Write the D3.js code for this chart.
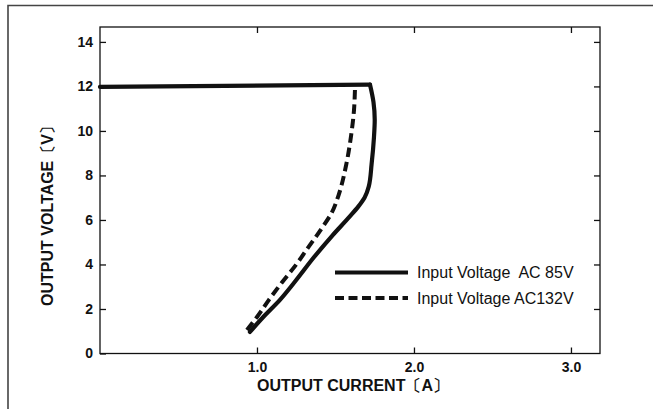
<!DOCTYPE html>
<html><head><meta charset="utf-8">
<script src="https://cdn.jsdelivr.net/npm/d3@7"></script>
<style>
html,body{margin:0;padding:0;background:#fff;}
svg{display:block;}
text{font-family:"Liberation Sans",Arial,Helvetica,sans-serif;fill:#111;}
</style></head>
<body>
<svg id="chart" width="653" height="409"></svg>
<script>
// ---- data ----
const xTicks = [1.0, 2.0, 3.0];
const xTickLabels = ["1.0", "2.0", "3.0"];
const yTicks = [0, 2, 4, 6, 8, 10, 12, 14];
const yTickLabels = ["0", "2", "4", "6", "8", "10", "12", "14"];
const seriesNames = ["Input Voltage  AC 85V", "Input Voltage AC132V"];
// AC 85V (solid): constant-voltage part [current A, voltage V]
const ac85Flat = [[0.00, 11.98], [1.72, 12.08]];
// AC 85V (solid): current-limit fold-back part
const ac85Drop = [
  [1.72, 12.08], [1.742, 11.30], [1.75, 10.50], [1.745, 9.70],
  [1.73, 8.50], [1.712, 7.50], [1.685, 7.00], [1.645, 6.60],
  [1.59, 6.15], [1.48, 5.30], [1.36, 4.30], [1.25, 3.30],
  [1.145, 2.40], [1.04, 1.64], [0.955, 0.97]
];
// AC132V (dashed)
const ac132 = [
  [1.624, 11.84], [1.618, 10.94], [1.600, 9.82], [1.568, 8.47],
  [1.520, 7.12], [1.478, 6.35], [1.41, 5.60], [1.33, 4.80],
  [1.25, 4.00], [1.16, 3.20], [1.075, 2.40], [1.00, 1.64], [0.936, 1.06]
];
const xLabel = "OUTPUT CURRENT〔A〕";
const yLabel = "OUTPUT VOLTAGE〔V〕";

// ---- layout ----
const svg = d3.select("#chart");
const L = 100, R = 600, T = 27, B = 353.5;
const x = d3.scaleLinear().domain([0, 3.185]).range([L, R]);
const y = d3.scaleLinear().domain([0, 14.67]).range([B, T]);
const ink = "#111";

// outer frame (top and left)
svg.append("path").attr("d", "M8,409V5.5H653").attr("fill", "none")
  .attr("stroke", "#444").attr("stroke-width", 1.6);

// plot box
svg.append("rect").attr("x", L).attr("y", T).attr("width", R - L).attr("height", B - T)
  .attr("fill", "none").attr("stroke", ink).attr("stroke-width", 1.3);

// axes with inward ticks
const tl = 6;
const gB = svg.append("g").attr("transform", `translate(0,${B})`)
  .call(d3.axisBottom(x).tickValues(xTicks).tickSize(-tl).tickFormat((d, i) => xTickLabels[i]).tickPadding(9));
const gT = svg.append("g").attr("transform", `translate(0,${T})`)
  .call(d3.axisTop(x).tickValues(xTicks).tickSize(-tl).tickFormat(""));
const gL = svg.append("g").attr("transform", `translate(${L},0)`)
  .call(d3.axisLeft(y).tickValues(yTicks).tickSize(-tl).tickFormat((d, i) => yTickLabels[i]).tickPadding(7));
const gR = svg.append("g").attr("transform", `translate(${R},0)`)
  .call(d3.axisRight(y).tickValues(yTicks.filter(v => v > 0)).tickSize(-tl).tickFormat(""));
[gB, gT, gL, gR].forEach(g => {
  g.select(".domain").remove();
  g.selectAll(".tick line").attr("stroke", ink).attr("stroke-width", 1.3);
  g.selectAll("text").attr("font-size", 14).attr("fill", ink).style("font-weight", "bold")
    .attr("font-family", "'Liberation Sans',Arial,sans-serif");
});

// curves
const flat = d3.line().x(d => x(d[0])).y(d => y(d[1]));
const drop = d3.line().x(d => x(d[0])).y(d => y(d[1])).curve(d3.curveMonotoneY);
svg.append("path").datum(ac85Flat).attr("d", flat).attr("fill", "none")
  .attr("stroke", ink).attr("stroke-width", 4.2).attr("stroke-linecap", "round");
svg.append("path").datum(ac85Drop).attr("d", drop).attr("fill", "none")
  .attr("stroke", ink).attr("stroke-width", 4.2).attr("stroke-linecap", "round");
svg.append("path").datum(ac132).attr("d", drop).attr("fill", "none")
  .attr("stroke", ink).attr("stroke-width", 4).attr("stroke-dasharray", "9.5,5");

// legend
const lg = svg.append("g");
const styles = [{dash: null, w: 4.2}, {dash: "9,4.5", w: 4}];
seriesNames.forEach((name, i) => {
  const yy = 272.5 + i * 25.5;
  const ln = lg.append("line").attr("x1", 335).attr("x2", 408).attr("y1", yy).attr("y2", yy)
    .attr("stroke", ink).attr("stroke-width", styles[i].w);
  if (styles[i].dash) ln.attr("stroke-dasharray", styles[i].dash);
  lg.append("text").attr("x", 417).attr("y", yy + 5.5).attr("font-size", 16)
    .style("white-space", "pre").attr("xml:space", "preserve").text(name);
});

// axis titles
svg.append("text").attr("x", (L + R) / 2 + 3).attr("y", 391).attr("text-anchor", "middle")
  .attr("font-size", 16).style("font-weight", "bold").text(xLabel);
svg.append("text").attr("transform", "translate(53,212) rotate(-90)").attr("text-anchor", "middle")
  .attr("font-size", 16).style("font-weight", "bold").text(yLabel);
</script>
</body></html>
